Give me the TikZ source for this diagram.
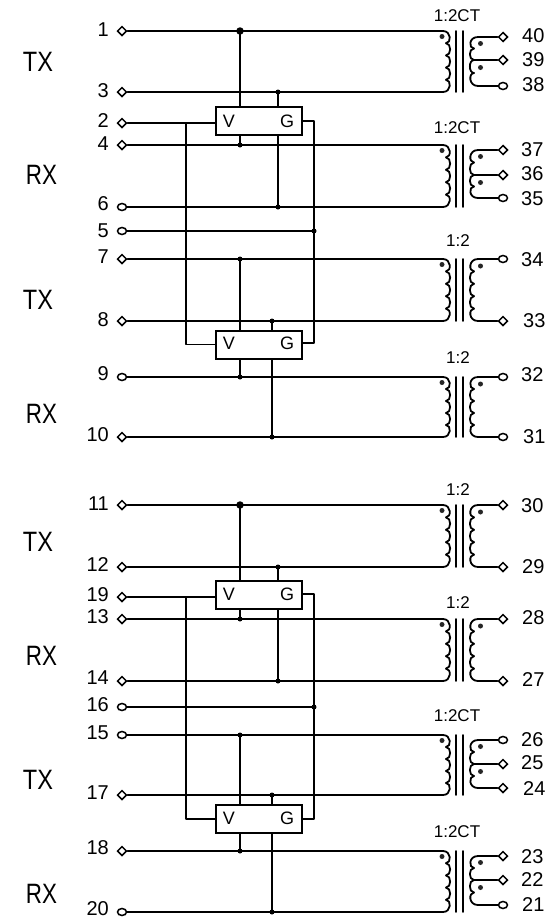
\documentclass[tikz,border=0pt]{standalone}
\usepackage{fontspec}
\setmainfont{Liberation Sans}
\usetikzlibrary{shapes.geometric}
\tikzset{
  wire/.style={draw=black,line width=1.8pt,line cap=round,line join=round},
  dpin/.style={shape=diamond,draw=black,fill=white,line width=1.5pt,inner sep=0pt,minimum width=9.5pt,minimum height=9.5pt},
  cpin/.style={shape=ellipse,draw=black,fill=white,line width=1.5pt,inner sep=0pt,minimum width=9pt,minimum height=7pt},
  numl/.style={inner sep=0pt,font=\fontsize{20}{20}\selectfont,anchor=east},
  numr/.style={inner sep=0pt,font=\fontsize{20}{20}\selectfont,anchor=west},
  ratio/.style={inner sep=0pt,font=\fontsize{17}{17}\selectfont},
  sidetx/.style={inner sep=0pt,font=\fontsize{28}{28}\selectfont,xscale=.84},
  siderx/.style={inner sep=0pt,font=\fontsize{28}{28}\selectfont,xscale=.8},
  sw/.style={draw=black,line width=1.8pt,fill=white,minimum width=86pt,minimum height=28pt,inner sep=0pt},
  vg/.style={inner sep=0pt,font=\fontsize{18}{18}\selectfont},
  jdot/.style={shape=circle,fill=black,inner sep=0pt,minimum size=5pt},
  jbig/.style={shape=circle,fill=black,inner sep=0pt,minimum size=7.5pt},
  pdot/.style={shape=circle,fill=black!85,inner sep=0pt,minimum size=5pt}
}
% num, y, pin style, label y
\newcommand{\lpin}[4]{\node[#3] (p#1) at (122,#2) {};\node[numl] (l#1) at (109,#4) {#1};}
% num, y, pin style, label x, label y
\newcommand{\rpin}[5]{\node[#3] (p#1) at (503,#2) {};\node[numr] (l#1) at (#4,#5) {#1};}
\newcommand{\bump}[5]{\draw[wire] (#1,#2) .. controls (#3,#2) and (#3,#4) .. (#5,#4);}
% xend xnotch xctrl ytop ybot
\newcommand{\winding}[5]{%
  \pgfmathsetmacro\cva{#4+(#5-#4)/5}\pgfmathsetmacro\cvb{#4+2*(#5-#4)/5}%
  \pgfmathsetmacro\cvc{#4+3*(#5-#4)/5}\pgfmathsetmacro\cvd{#4+4*(#5-#4)/5}%
  \bump{#1}{#4}{#3}{\cva}{#2}\bump{#2}{\cva}{#3}{\cvb}{#2}\bump{#2}{\cvb}{#3}{\cvc}{#2}%
  \bump{#2}{\cvc}{#3}{\cvd}{#2}\bump{#2}{\cvd}{#3}{#5}{#1}}
% left nums a b, y top, y bottom: primary, core and its phase dot
\newcommand{\primary}[4]{%
  \coordinate (e#1) at (443,#3);\coordinate (e#2) at (443,#4);
  \draw[wire] (p#1) -- (e#1);\draw[wire] (p#2) -- (e#2);
  \winding{443}{446}{451.5}{#3}{#4}
  \coordinate (ca#1) at (456,#3);\coordinate (cb#1) at (456,#4);
  \coordinate (cc#1) at (463,#3);\coordinate (cd#1) at (463,#4);
  \draw[wire] (ca#1) -- (cb#1);\draw[wire] (cc#1) -- (cd#1);
  \node[pdot] (dp#1) at (442,#3+5.5) {};}
% right nums a b, y top, y bottom
\newcommand{\secplain}[4]{%
  \coordinate (e#1) at (478,#3);\coordinate (e#2) at (478,#4);
  \draw[wire] (p#1) -- (e#1);\draw[wire] (p#2) -- (e#2);
  \winding{478}{474}{468.5}{#3}{#4}
  \node[pdot] (dp#1) at (480.5,#3+7) {};}
% right nums a c b, y top, y centre, y bottom
\newcommand{\secct}[6]{%
  \coordinate (e#1) at (478,#4);\coordinate (e#2) at (474,#5);\coordinate (e#3) at (478,#6);
  \draw[wire] (p#1) -- (e#1);\draw[wire] (p#2) -- (e#2);\draw[wire] (p#3) -- (e#3);
  \pgfmathsetmacro\cva{(#4+#5)/2}\pgfmathsetmacro\cvb{(#5+#6)/2}%
  \bump{478}{#4}{468.5}{\cva}{474}\bump{474}{\cva}{468.5}{#5}{474}%
  \bump{474}{#5}{468.5}{\cvb}{474}\bump{474}{\cvb}{468.5}{#6}{478}%
  \node[pdot] (dp#1) at (480.5,#4+6.5) {};\node[pdot] (dp#2) at (480.5,#5+7.5) {};}
\begin{document}
\begin{tikzpicture}[x=1pt,y=-1pt]
\useasboundingbox (0,0) rectangle (555,919);
% left pins
\lpin{1}{31}{dpin}{30}\lpin{3}{92}{dpin}{91}\lpin{2}{123}{dpin}{121}\lpin{4}{145}{dpin}{144}
\lpin{6}{207}{cpin}{204}\lpin{5}{231}{cpin}{231}\lpin{7}{259}{dpin}{257}\lpin{8}{321}{dpin}{320}
\lpin{9}{377}{cpin}{374}\lpin{10}{437}{dpin}{435}
\lpin{11}{505}{dpin}{504}\lpin{12}{567}{dpin}{565}\lpin{19}{597}{dpin}{595}\lpin{13}{619}{dpin}{617}
\lpin{14}{681}{dpin}{678}\lpin{16}{707}{cpin}{705}\lpin{15}{735}{cpin}{733}\lpin{17}{795}{dpin}{793}
\lpin{18}{851}{dpin}{848}\lpin{20}{912}{cpin}{909}
% right pins
\rpin{40}{37}{dpin}{522}{36}\rpin{39}{60}{dpin}{522}{60}\rpin{38}{86}{cpin}{522}{85}
\rpin{37}{150}{dpin}{521}{150}\rpin{36}{175}{dpin}{521}{174}\rpin{35}{198}{cpin}{521}{199}
\rpin{34}{259}{cpin}{521}{260}\rpin{33}{321}{dpin}{523}{321}
\rpin{32}{377}{cpin}{521}{375}\rpin{31}{437}{cpin}{523}{437}
\rpin{30}{505}{dpin}{521}{506}\rpin{29}{567}{dpin}{522}{567}
\rpin{28}{619}{dpin}{522}{618}\rpin{27}{681}{dpin}{522}{680}
\rpin{26}{740}{cpin}{521}{740}\rpin{25}{764}{dpin}{521}{763}\rpin{24}{788}{dpin}{523}{789}
\rpin{23}{856}{dpin}{521}{857}\rpin{22}{880}{dpin}{521}{880}\rpin{21}{905}{cpin}{522}{905}
% transformers
\primary{1}{3}{31}{92}\secct{40}{39}{38}{37}{60}{86}
\primary{4}{6}{145}{207}\secct{37}{36}{35}{150}{175}{198}
\primary{7}{8}{259}{321}\secplain{34}{33}{259}{321}
\primary{9}{10}{377}{437}\secplain{32}{31}{377}{437}
\primary{11}{12}{505}{567}\secplain{30}{29}{505}{567}
\primary{13}{14}{619}{681}\secplain{28}{27}{619}{681}
\primary{15}{17}{735}{795}\secct{26}{25}{24}{740}{764}{788}
\primary{18}{20}{851}{912}\secct{23}{22}{21}{856}{880}{905}
% ratio labels
\node[ratio] (r1) at (457,16) {1:2CT};
\node[ratio] (r2) at (457,128) {1:2CT};
\node[ratio] (r3) at (458,241) {1:2};
\node[ratio] (r4) at (458,358) {1:2};
\node[ratio] (r5) at (458,490) {1:2};
\node[ratio] (r6) at (458,603) {1:2};
\node[ratio] (r7) at (457,716) {1:2CT};
\node[ratio] (r8) at (457,832) {1:2CT};
% side labels
\node[sidetx] (t1) at (38,62) {TX};\node[siderx] (t2) at (41.5,175) {RX};
\node[sidetx] (t3) at (38,300) {TX};\node[siderx] (t4) at (41.5,414) {RX};
\node[sidetx] (t5) at (38,542) {TX};\node[siderx] (t6) at (41.5,656) {RX};
\node[sidetx] (t7) at (38,780) {TX};\node[siderx] (t8) at (41.5,894) {RX};
% protection blocks
\node[sw] (bA) at (259,121) {};\node[sw] (bB) at (259,345) {};
\node[sw] (bC) at (259,595) {};\node[sw] (bD) at (259,819) {};
\node[vg] (vA) at (229,121) {V};\node[vg] (gA) at (287,121) {G};
\node[vg] (vB) at (229,343) {V};\node[vg] (gB) at (287,343) {G};
\node[vg] (vC) at (229,594) {V};\node[vg] (gC) at (287,594) {G};
\node[vg] (vD) at (229,818) {V};\node[vg] (gD) at (287,818) {G};
% junctions
\node[jbig] (j1) at (240,31) {};\node[jdot] (j2) at (278,92) {};
\node[jdot] (j3) at (240,145) {};\node[jdot] (j4) at (278,207) {};
\node[jdot] (j5) at (314,231) {};\node[jdot] (j6) at (240,259) {};
\node[jdot] (j7) at (272,321) {};\node[jdot] (j8) at (240,377) {};
\node[jdot] (j9) at (272,437) {};
\node[jbig] (j11) at (240,505) {};\node[jdot] (j12) at (278,567) {};
\node[jdot] (j13) at (240,619) {};\node[jdot] (j14) at (278,681) {};
\node[jdot] (j15) at (314,707) {};\node[jdot] (j16) at (240,735) {};
\node[jdot] (j17) at (272,795) {};\node[jdot] (j18) at (240,851) {};
\node[jdot] (j19) at (272,912) {};
% bus corner points
\coordinate (lA) at (186,123);\coordinate (lB) at (186,344.5);
\coordinate (lC) at (186,597);\coordinate (lD) at (186,819);
\coordinate (rA) at (314,121);\coordinate (rB) at (314,343);
\coordinate (rC) at (314,594);\coordinate (rD) at (314,819);
% upper group
\draw[wire] (p2) -- (p2 -| bA.west);
\draw[wire] (p5) -- (j5.center);
\draw[wire] (lA) -- (lB) -- (lB -| bB.west);
\draw[wire] (bA.east |- rA) -- (rA) -- (rB) -- (bB.east |- rB);
\draw[wire] (j1.center) -- (j1 |- bA.north);
\draw[wire] (j2.center) -- (j2 |- bA.north);
\draw[wire] (j3 |- bA.south) -- (j3.center);
\draw[wire] (j4 |- bA.south) -- (j4.center);
\draw[wire] (j6.center) -- (j6 |- bB.north);
\draw[wire] (j7.center) -- (j7 |- bB.north);
\draw[wire] (j8 |- bB.south) -- (j8.center);
\draw[wire] (j9 |- bB.south) -- (j9.center);
% lower group
\draw[wire] (p19) -- (p19 -| bC.west);
\draw[wire] (p16) -- (j15.center);
\draw[wire] (lC) -- (lD) -- (lD -| bD.west);
\draw[wire] (bC.east |- rC) -- (rC) -- (rD) -- (bD.east |- rD);
\draw[wire] (j11.center) -- (j11 |- bC.north);
\draw[wire] (j12.center) -- (j12 |- bC.north);
\draw[wire] (j13 |- bC.south) -- (j13.center);
\draw[wire] (j14 |- bC.south) -- (j14.center);
\draw[wire] (j16.center) -- (j16 |- bD.north);
\draw[wire] (j17.center) -- (j17 |- bD.north);
\draw[wire] (j18 |- bD.south) -- (j18.center);
\draw[wire] (j19 |- bD.south) -- (j19.center);
\end{tikzpicture}
\end{document}
